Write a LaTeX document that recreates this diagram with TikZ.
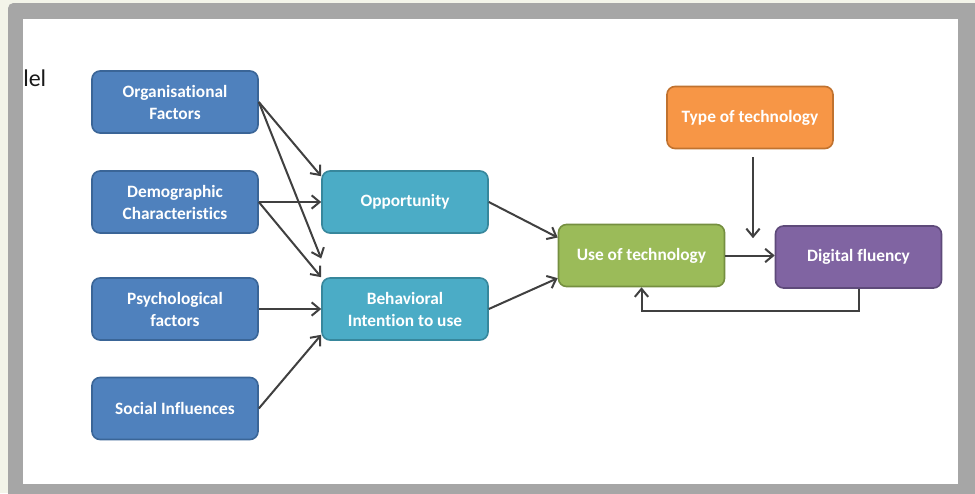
\documentclass[tikz,border=0pt]{standalone}
\usepackage{fontspec}
\setmainfont{Carlito}[Ligatures=NoCommon]
\usepackage{xcolor}
\usetikzlibrary{arrows.meta,positioning,calc}

\definecolor{pagebg}{HTML}{F3F4E9}
\definecolor{framegrey}{HTML}{A6A6A6}
\definecolor{arrowgrey}{HTML}{404040}
\definecolor{factblue}{HTML}{4F81BD}
\definecolor{factblueline}{HTML}{3A6597}
\definecolor{medteal}{HTML}{4BACC6}
\definecolor{medtealline}{HTML}{37879C}
\definecolor{usegreen}{HTML}{9BBB59}
\definecolor{usegreenline}{HTML}{758F40}
\definecolor{fluentpurple}{HTML}{8064A2}
\definecolor{fluentpurpleline}{HTML}{5E4A7A}
\definecolor{typeorange}{HTML}{F79646}
\definecolor{typeorangeline}{HTML}{C0722F}

\begin{document}
\begin{tikzpicture}[x=0.75pt,y=-0.75pt,>={Straight Barb[length=6pt,width=10pt]},
    box/.style={draw,line width=1.2pt,rounded corners=6pt,minimum width=124.5pt,minimum height=46.5pt,
      align=center,inner sep=2pt,text=white,font=\fontsize{13}{16.5}\selectfont\bfseries},
    factor/.style={box,fill=factblue,draw=factblueline},
    mediator/.style={box,fill=medteal,draw=medtealline},
    conn/.style={->,line width=1.5pt,draw=arrowgrey}]
    \useasboundingbox (0,0) rectangle (975,493);

    % 幻灯片背景与灰色边框
    \fill[pagebg] (0,0) rectangle (975,493);
    \fill[framegrey,rounded corners=4pt] (8,3) rectangle (985,503);
    \fill[white] (23,19) rectangle (958,484);
    \node[anchor=west,inner sep=0pt,text=black!90,font=\fontsize{18}{20}\selectfont] (ttl) at (23,78) {lel};

    % 左侧影响因素
    \node[factor] (of) at (175,102) {Organisational\\Factors};
    \node[factor] (dc) at (175,202) {Demographic\\Characteristics};
    \node[factor] (pf) at (175,309) {Psychological\\factors};
    \node[factor] (si) at (175,408.5) {Social Influences};

    % 中间变量
    \node[mediator] (opp) at (405,202) {Opportunity};
    \node[mediator] (bi) at (405,309) {Behavioral\\Intention to use};

    % 右侧结果
    \node[box,fill=usegreen,draw=usegreenline] (use) at (641.5,255.5) {Use of technology};
    \node[box,fill=fluentpurple,draw=fluentpurpleline] (df) at (858.5,257) {Digital fluency};
    \node[box,fill=typeorange,draw=typeorangeline] (type) at (750,117.5) {Type of technology};

    % 因素 -> 中间变量
    \draw[conn] (of.east) -- ([yshift=-4.5pt]opp.north west);
    \draw[conn] (of.east) -- ([yshift=14pt]bi.north west);
    \draw[conn] (dc.east) -- (opp.west);
    \draw[conn] (dc.east) -- (bi.north west);
    \draw[conn] (pf.east) -- (bi.west);
    \draw[conn] (si.east) -- ([yshift=4.5pt]bi.south west);

    % 中间变量 -> 技术使用
    \draw[conn] (opp.east) -- ([yshift=13.5pt]use.west);
    \draw[conn] (bi.east) -- ([yshift=-17pt]use.west);

    % 技术使用 -> 数字流畅度，及反馈
    \draw[conn] (use.east) -- (use.east -| df.west);
    \draw[conn,shorten <=6pt,shorten >=13pt] ([xshift=2.25pt]type.south) -- ([xshift=2.25pt]type.south |- use.east);
    \draw[conn] (df.south) -- ++(0,22) -| (use.south);
\end{tikzpicture}
\end{document}
